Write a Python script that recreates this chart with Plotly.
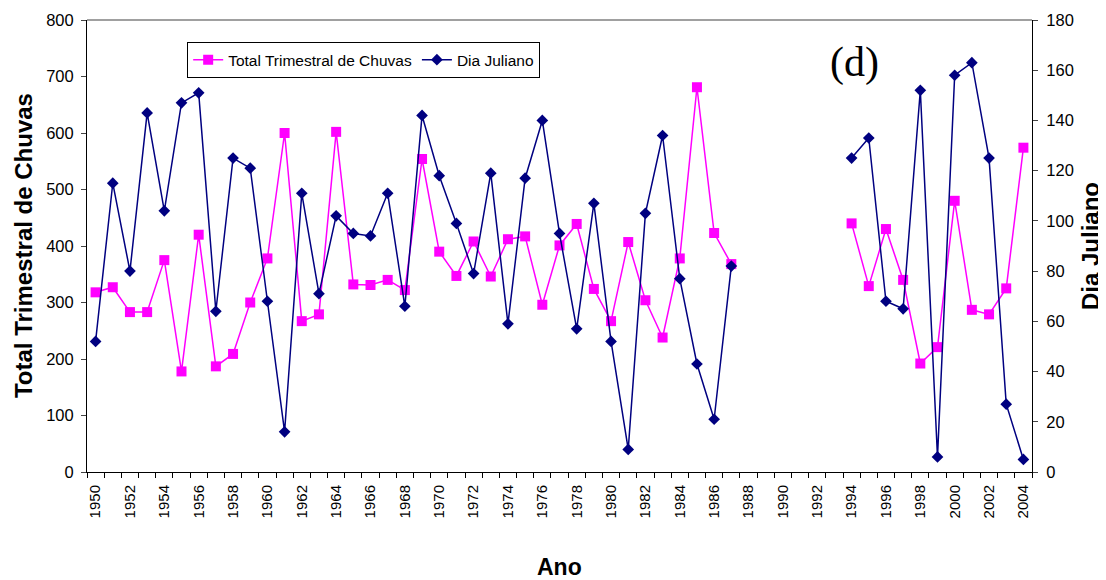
import plotly.graph_objects as go

years = list(range(1950, 2005))

total_chuvas = [318, 327, 283, 283, 375, 178, 420, 187, 209, 300,
                378, 600, 267, 279, 602, 332, 331, 340, 322, 554,
                390, 347, 408, 346, 412, 417, 296, 401, 439, 324,
                267, 407, 304, 238, 378, 681, 423, 368,
                None, None, None, None, None, None,
                440, 329, 430, 340, 192, 221, 480, 287, 279, 325, 574]

dia_juliano = [52, 115, 80, 143, 104, 147, 151, 64, 125, 121,
               68, 16, 111, 71, 102, 95, 94, 111, 66, 142,
               118, 99, 79, 119, 59, 117, 140, 95, 57, 107,
               52, 9, 103, 134, 77, 43, 21, 82,
               None, None, None, None, None, None,
               125, 133, 68, 65, 152, 6, 158, 163, 125, 27, 5]

label_years = list(range(1950, 2005, 2))
boundaries = [y - 0.5 for y in range(1950, 2006)]

font_family = "Liberation Sans, Arial, sans-serif"

fig = go.Figure()
fig.add_trace(go.Scatter(
    x=years, y=total_chuvas, name="Total Trimestral de Chuvas",
    mode="lines+markers", connectgaps=False,
    line=dict(color="#FF00FF", width=1.5),
    marker=dict(symbol="square", size=10, color="#FF00FF"),
    yaxis="y"))
fig.add_trace(go.Scatter(
    x=years, y=dia_juliano, name="Dia Juliano",
    mode="lines+markers", connectgaps=False,
    line=dict(color="#000080", width=1.5),
    marker=dict(symbol="diamond", size=9, color="#000080"),
    yaxis="y2"))

# page body has an 8px margin, so the figure is 8px smaller than the window
fig.update_layout(
    width=1098, height=572,
    margin=dict(l=79, r=74, t=12, b=108, autoexpand=False),
    paper_bgcolor="white", plot_bgcolor="white",
    font=dict(family=font_family, size=15, color="black"),
    showlegend=True,
    legend=dict(orientation="h", x=0.106, y=0.951, xanchor="left", yanchor="top",
                bordercolor="black", borderwidth=1, bgcolor="white",
                font=dict(size=15.5), itemwidth=30, tracegroupgap=0),
    xaxis=dict(
        range=[1949.5, 2004.5], tickmode="array", tickvals=label_years,
        ticktext=[str(y) for y in label_years], tickangle=-90,
        tickfont=dict(size=15),
        ticks="", showline=True, linecolor="black", linewidth=1,
        showgrid=False, zeroline=False, automargin=False,
        ticklabelstandoff=6,
        minor=dict(tickmode="array", tickvals=boundaries, ticks="outside",
                   ticklen=5, tickcolor="black", showgrid=False),
    ),
    yaxis=dict(
        range=[0, 800], dtick=100, ticks="outside", ticklen=5,
        tickfont=dict(size=16.5), ticklabelstandoff=4,
        showline=True, linecolor="black", linewidth=1,
        showgrid=False, zeroline=False, automargin=False,
    ),
    yaxis2=dict(
        range=[0, 180], dtick=20, ticks="outside", ticklen=5,
        tickfont=dict(size=16.5), ticklabelstandoff=5,
        overlaying="y", side="right",
        showline=True, linecolor="black", linewidth=1,
        showgrid=False, zeroline=False, automargin=False,
    ),
    shapes=[dict(type="line", xref="paper", yref="paper", x0=0, x1=1, y0=1, y1=1,
                 line=dict(color="gray", width=1.5))],
    annotations=[
        dict(text="(d)", xref="paper", yref="paper", x=0.812, y=0.907,
             xanchor="center", yanchor="middle", showarrow=False,
             font=dict(family="Liberation Serif, Times New Roman, serif", size=42, color="black")),
        dict(text="<b>Total Trimestral de Chuvas</b>", xref="paper", yref="paper",
             x=-0.0677, y=0.5, xanchor="center", yanchor="middle", textangle=-90,
             showarrow=False, font=dict(size=24)),
        dict(text="<b>Dia Juliano</b>", xref="paper", yref="paper",
             x=1.0614, y=0.5, xanchor="center", yanchor="middle", textangle=-90,
             showarrow=False, font=dict(size=24)),
        dict(text="<b>Ano</b>", xref="paper", yref="paper",
             x=0.5, y=-0.21, xanchor="center", yanchor="middle",
             showarrow=False, font=dict(size=23)),
    ],
)

fig.write_html("out.html")
